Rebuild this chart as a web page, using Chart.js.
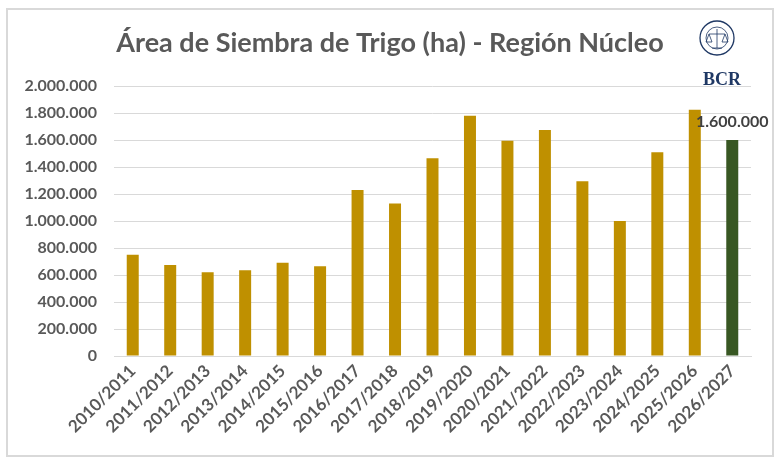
<!DOCTYPE html>
<html>
<head>
<meta charset="utf-8">
<script src="https://cdn.jsdelivr.net/npm/chart.js@4/dist/chart.umd.min.js"></script>
<style>
  html, body { margin: 0; padding: 0; background: #fff; }
  #wrap { position: relative; width: 783px; height: 463px; }
</style>
</head>
<body>
<div id="wrap"><canvas id="chart" width="783" height="463"></canvas></div>
<script>
var campanias = ['2010/2011', '2011/2012', '2012/2013', '2013/2014', '2014/2015', '2015/2016',
  '2016/2017', '2017/2018', '2018/2019', '2019/2020', '2020/2021', '2021/2022',
  '2022/2023', '2023/2024', '2024/2025', '2025/2026', '2026/2027']
var hectareas = [750000, 675000, 620000, 635000, 690000, 665000, 1230000, 1130000,
  1465000, 1780000, 1595000, 1675000, 1295000, 1000000, 1510000, 1825000, 1600000]
var yTicks = [0, 200000, 400000, 600000, 800000, 1000000, 1200000, 1400000, 1600000, 1800000, 2000000]

var dorado = '#BF9000'
var verde = '#385723'
var gris = '#595959'

function fmt(v) {
  return String(v).replace(/\B(?=(\d{3})+(?!\d))/g, '.')
}

// marco, título, logo y etiqueta de la última campaña
var extras = {
  id: 'extras',
  beforeDraw: function (chart) {
    var c = chart.ctx
    c.save()
    c.fillStyle = '#fff'
    c.fillRect(0, 0, chart.width, chart.height)
    c.strokeStyle = '#d9d9d9'
    c.lineWidth = 2
    c.strokeRect(7, 9, 766, 447)
    c.restore()
  },
  afterDraw: function (chart) {
    var c = chart.ctx
    c.save()
    c.fillStyle = gris
    c.font = 'bold 27px Lato'
    c.textAlign = 'center'
    c.textBaseline = 'alphabetic'
    c.fillText('Área de Siembra de Trigo (ha) - Región Núcleo', 390, 52)

    // logo BCR
    c.strokeStyle = '#1F3864'
    c.lineWidth = 1.3
    c.beginPath(); c.arc(717, 38, 17, 0, Math.PI * 2); c.stroke()
    c.lineWidth = 0.8
    c.beginPath(); c.arc(717, 38, 11, 0, Math.PI * 2); c.stroke()
    c.beginPath()
    c.moveTo(717, 29); c.lineTo(717, 48)
    c.moveTo(709, 34); c.lineTo(725, 34)
    c.moveTo(709, 34); c.lineTo(706, 42); c.lineTo(712, 42); c.closePath()
    c.moveTo(725, 34); c.lineTo(722, 42); c.lineTo(728, 42); c.closePath()
    c.moveTo(712, 48); c.lineTo(722, 48)
    c.stroke()
    c.fillStyle = '#1F3864'
    c.font = 'bold 18px "Liberation Serif"'
    c.fillText('BCR', 722, 85)

    // etiqueta de dato
    var meta = chart.getDatasetMeta(0)
    var last = meta.data[meta.data.length - 1]
    c.fillStyle = '#404040'
    c.font = 'bold 16px Lato'
    c.fillText(fmt(hectareas[hectareas.length - 1]), last.x, last.y - 13)
    c.restore()
  }
}

var ctx = document.getElementById('chart').getContext('2d')
var chart = new Chart(ctx, {
  type: 'bar',
  data: {
    labels: campanias,
    datasets: [{
      data: hectareas,
      backgroundColor: hectareas.map(function (v, i) { return i === hectareas.length - 1 ? verde : dorado }),
      barPercentage: 0.32,
      categoryPercentage: 1
    }]
  },
  options: {
    responsive: false,
    animation: false,
    devicePixelRatio: 1,
    layout: { padding: { top: 86, right: 32, bottom: 0, left: 0 } },
    plugins: { legend: { display: false }, tooltip: { enabled: false } },
    scales: {
      x: {
        grid: { display: false, drawTicks: false },
        border: { color: '#d9d9d9', width: 1 },
        ticks: {
          color: gris,
          font: { family: 'Lato', size: 17, weight: 'bold' },
          minRotation: 45,
          maxRotation: 45,
          padding: 5,
          autoSkip: false
        },
        afterFit: function (s) { s.height = 107 }
      },
      y: {
        min: 0,
        max: 2000000,
        afterBuildTicks: function (s) { s.ticks = yTicks.map(function (v) { return { value: v } }) },
        grid: { color: '#d9d9d9', drawTicks: false },
        border: { display: false },
        ticks: {
          color: gris,
          font: { family: 'Lato', size: 16, weight: 'bold' },
          padding: 17,
          callback: function (v) { return fmt(v) }
        },
        afterFit: function (s) { s.width = 114 }
      }
    }
  },
  plugins: [extras]
})
</script>
</body>
</html>
